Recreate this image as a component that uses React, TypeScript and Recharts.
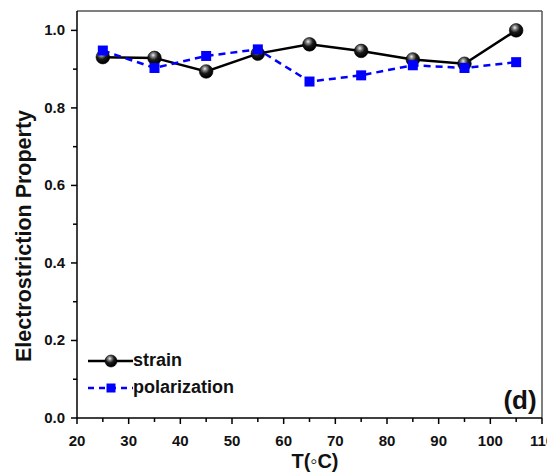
import React from 'react';
import { LineChart, Line, XAxis, YAxis, Legend, ReferenceLine, Label } from 'recharts';

const temperatures = [25, 35, 45, 55, 65, 75, 85, 95, 105];
const strainValues = [0.931, 0.929, 0.894, 0.94, 0.964, 0.947, 0.925, 0.914, 1.0];
const polarizationValues = [0.948, 0.903, 0.934, 0.951, 0.868, 0.884, 0.91, 0.903, 0.918];
const xTicks = [20, 25, 30, 35, 40, 45, 50, 55, 60, 65, 70, 75, 80, 85, 90, 95, 100, 105, 110];
const yTicks = [0, 0.1, 0.2, 0.3, 0.4, 0.5, 0.6, 0.7, 0.8, 0.9, 1.0];

const data = temperatures.map((t, i) => ({ t, strain: strainValues[i], polarization: polarizationValues[i] }));

const FONT = '"Liberation Sans", Arial, sans-serif';

const XTick = (props: any) => {
  const { x, y, payload } = props;
  const v = payload.value;
  const major = Math.round(v) % 10 === 0;
  return (
    <g>
      <line x1={x} x2={x} y1={y} y2={y + (major ? 6 : 4)} stroke="#000" strokeWidth={1.5} />
      {major && (
        <text x={x} y={y + 28} textAnchor="middle" fontFamily={FONT} fontWeight="bold" fontSize={15} fill="#111">
          {v}
        </text>
      )}
    </g>
  );
};

const YTick = (props: any) => {
  const { x, y, payload } = props;
  const v = payload.value;
  const major = Math.round(v * 10) % 2 === 0;
  return (
    <g>
      <line x1={x} x2={x - (major ? 6 : 4)} y1={y} y2={y} stroke="#000" strokeWidth={1.5} />
      {major && (
        <text x={x - 12} y={y + 5} textAnchor="end" fontFamily={FONT} fontWeight="bold" fontSize={15} fill="#111">
          {v.toFixed(1)}
        </text>
      )}
    </g>
  );
};

const Sphere = (props: any) => {
  const { cx, cy, size = 6.8 } = props;
  if (cx == null || cy == null) return null;
  return (
    <g>
      <defs>
        <radialGradient id="sphereGrad" cx="0.4" cy="0.3" r="0.65">
          <stop offset="0%" stopColor="#f0f0f0" />
          <stop offset="22%" stopColor="#8a8a8a" />
          <stop offset="55%" stopColor="#1a1a1a" />
          <stop offset="100%" stopColor="#000" />
        </radialGradient>
      </defs>
      <circle cx={cx} cy={cy} r={size} fill="url(#sphereGrad)" stroke="#000" strokeWidth={0.6} />
    </g>
  );
};

const Square = (props: any) => {
  const { cx, cy, s = 10 } = props;
  if (cx == null || cy == null) return null;
  return <rect x={cx - s / 2} y={cy - s / 2} width={s} height={s} fill="#0000ff" />;
};

const LegendContent = () => (
  <div style={{ fontFamily: FONT, fontWeight: 'bold', fontSize: 18, color: '#111', lineHeight: '27px' }}>
    <div style={{ display: 'flex', alignItems: 'center', height: 27 }}>
      <svg width={45} height={20}>
        <line x1={0} x2={45} y1={10} y2={10} stroke="#000" strokeWidth={2.5} />
        <Sphere cx={23} cy={10} size={6} />
      </svg>
      <span>strain</span>
    </div>
    <div style={{ display: 'flex', alignItems: 'center', height: 27 }}>
      <svg width={45} height={20}>
        <line x1={0} x2={45} y1={10} y2={10} stroke="#0000ff" strokeWidth={2.5} strokeDasharray="6 5" />
        <Square cx={23} cy={10} s={9} />
      </svg>
      <span>polarization</span>
    </div>
  </div>
);

export default function App() {
  return (
    <div style={{ position: 'absolute', left: 0, top: 0, width: 547, height: 472 }}>
      <LineChart width={547} height={472} data={data} margin={{ top: 11, right: 5, left: 0, bottom: 0 }}>
        <XAxis
          dataKey="t"
          type="number"
          domain={[20, 110]}
          ticks={xTicks}
          interval={0}
          height={54}
          tickLine={false}
          tickSize={0}
          tickMargin={0}
          tick={<XTick />}
          axisLine={{ stroke: '#000', strokeWidth: 1.5 }}
        >
          <Label
            content={() => (
              <g>
                <text x={315} y={468} textAnchor="middle" fontFamily={FONT} fontWeight="bold" fontSize={20} fill="#111">
                  T(◦C)
                </text>
                <text x={520} y={409} textAnchor="middle" fontFamily={FONT} fontWeight="bold" fontSize={26} fill="#111">
                  (d)
                </text>
              </g>
            )}
          />
        </XAxis>
        <YAxis
          type="number"
          domain={[0, 1.05]}
          ticks={yTicks}
          interval={0}
          width={77}
          tickLine={false}
          tickSize={0}
          tickMargin={0}
          tick={<YTick />}
          axisLine={{ stroke: '#000', strokeWidth: 1.5 }}
        >
          <Label
            content={() => (
              <text
                x={24}
                y={236}
                transform="rotate(-90 24 236)"
                textAnchor="middle"
                dominantBaseline="central"
                fontFamily={FONT}
                fontWeight="bold"
                fontSize={21.5}
                fill="#111"
              >
                Electrostriction Property
              </text>
            )}
          />
        </YAxis>
        <ReferenceLine y={1.05} stroke="#555" strokeWidth={1.5} />
        <ReferenceLine x={110} stroke="#555" strokeWidth={1.5} />
        <Legend
          layout="vertical"
          align="center"
          verticalAlign="middle"
          content={<LegendContent />}
          wrapperStyle={{ position: 'absolute', left: 88, top: 347, width: 'auto', height: 'auto' }}
        />
        <Line
          dataKey="strain"
          stroke="#000"
          strokeWidth={2.5}
          dot={<Sphere />}
          activeDot={false}
          isAnimationActive={false}
        />
        <Line
          dataKey="polarization"
          stroke="#0000ff"
          strokeWidth={2.5}
          strokeDasharray="7 5"
          dot={<Square />}
          activeDot={false}
          isAnimationActive={false}
        />
      </LineChart>
    </div>
  );
}
